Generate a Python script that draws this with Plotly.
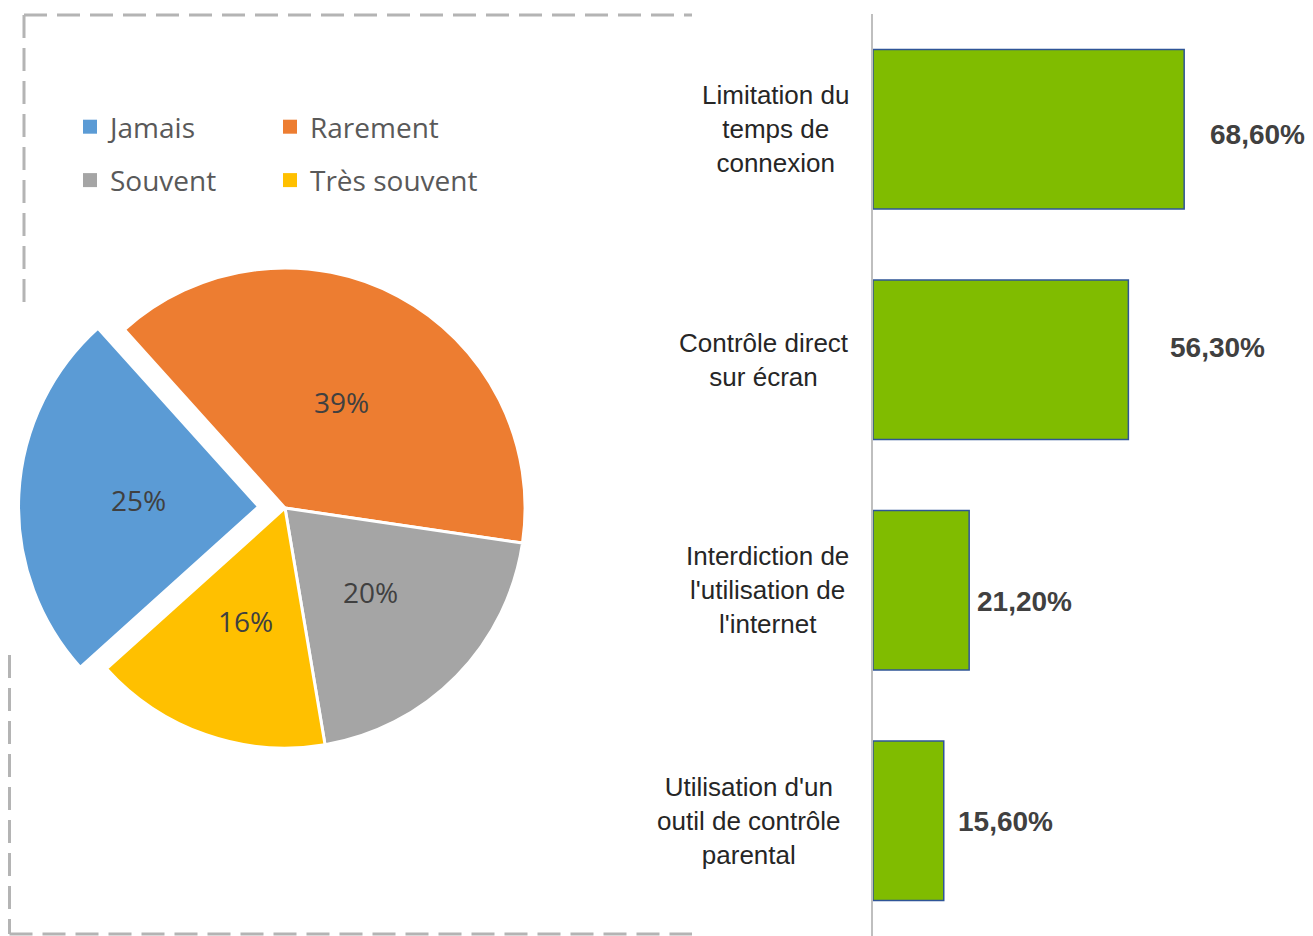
import math
import plotly.graph_objects as go

# ---- data ----
pie_labels = ["Jamais", "Rarement", "Souvent", "Très souvent"]
pie_values = [25, 39, 20, 16]
pie_colors = ["#5B9BD5", "#ED7D31", "#A5A5A5", "#FFC000"]
pie_pull = [0.11, 0, 0, 0]

bar_categories = [
    "Limitation du<br>temps de<br>connexion",
    "Contrôle direct<br>sur écran",
    "Interdiction de<br>l'utilisation de<br>l'internet",
    "Utilisation d'un<br>outil de contrôle<br>parental",
]
bar_values = [68.6, 56.3, 21.2, 15.6]
bar_text = ["68,60%", "56,30%", "21,20%", "15,60%"]

# label nudges (style, in px)
value_dx = [24, 40, 6, 12]
value_dy = [-5, 12, -11, -1]
cat_dx = [-22, -22, -22, -30]

# figure size (page body adds an 8px margin)
FW, FH = 1305, 928
OFF = 8


def px(x):
    return (x - OFF) / FW


def py(y):
    return 1 - (y - OFF) / FH


# pie geometry (in page pixels)
PIE_CX, PIE_CY, PIE_BOX = 285, 508, 533
PIE_ROT = 228
pie_r = PIE_BOX / (2 + 2 * max(pie_pull))

AXIS_X = px(873)

fig = go.Figure()

fig.add_trace(go.Bar(
    y=bar_categories,
    x=bar_values,
    orientation="h",
    marker=dict(color="#80BC00", line=dict(color="#2F5597", width=1.5)),
    showlegend=False,
    hoverinfo="x+y",
))

fig.add_trace(go.Pie(
    labels=pie_labels,
    values=pie_values,
    marker=dict(colors=pie_colors, line=dict(color="white", width=3)),
    sort=False,
    direction="clockwise",
    rotation=PIE_ROT,
    pull=pie_pull,
    textinfo="none",
    domain=dict(x=[px(PIE_CX - PIE_BOX / 2), px(PIE_CX + PIE_BOX / 2)],
                y=[py(PIE_CY + PIE_BOX / 2), py(PIE_CY - PIE_BOX / 2)]),
    showlegend=False,
    hoverinfo="label+percent",
))

# legend entries for the pie (two columns, as in the original)
for i, (lab, col) in enumerate(zip(pie_labels, pie_colors)):
    fig.add_trace(go.Scatter(
        x=[None], y=[None], mode="markers", name=lab,
        marker=dict(symbol="square", size=14, color=col),
        legend="legend" if i % 2 == 0 else "legend2",
        legendgroup=lab, showlegend=True, hoverinfo="skip",
    ))

annotations = []

# pie percentage labels, placed at half radius along each slice's mid-angle
total = sum(pie_values)
angle = PIE_ROT
for v, pl in zip(pie_values, pie_pull):
    frac = v / total
    mid = math.radians(angle + 360 * frac / 2)
    d = pie_r * (0.5 + pl)
    annotations.append(dict(
        x=px(PIE_CX + d * math.sin(mid)), y=py(PIE_CY - d * math.cos(mid)),
        xref="paper", yref="paper", text=f"{round(100 * frac)}%", showarrow=False,
        xanchor="center", yanchor="middle",
        font=dict(family="Open Sans", size=28, color="#404040"),
    ))
    angle += 360 * frac

for cat, v, t, dx, dy in zip(bar_categories, bar_values, bar_text, value_dx, value_dy):
    annotations.append(dict(
        x=v, y=cat, xref="x", yref="y", text=t, showarrow=False,
        xanchor="left", yanchor="middle", xshift=dx, yshift=dy,
        font=dict(family="Arial, Liberation Sans", size=28, color="#404040", weight="bold"),
    ))
for cat, dx in zip(bar_categories, cat_dx):
    annotations.append(dict(
        x=AXIS_X, y=cat, xref="paper", yref="y", text=cat, showarrow=False,
        xanchor="right", yanchor="middle", align="center", xshift=dx,
        font=dict(family="Arial, Liberation Sans", size=26, color="#262626"),
    ))

dash_style = dict(color="#B4B4B4", width=3, dash="23px,10px")
shapes = [
    dict(type="line", xref="paper", yref="paper", x0=px(24), x1=px(692),
         y0=py(15), y1=py(15), line=dash_style),
    dict(type="line", xref="paper", yref="paper", x0=px(24), x1=px(24),
         y0=py(15), y1=py(312), line=dash_style),
    dict(type="line", xref="paper", yref="paper", x0=px(9.5), x1=px(9.5),
         y0=py(655), y1=py(934), line=dash_style),
    dict(type="line", xref="paper", yref="paper", x0=px(9.5), x1=px(692),
         y0=py(934), y1=py(934), line=dash_style),
]

legend_common = dict(
    orientation="v", yanchor="top", xanchor="left", y=py(102),
    tracegroupgap=14, bgcolor="rgba(0,0,0,0)", itemclick=False, itemdoubleclick=False,
    font=dict(family="Open Sans", size=28, color="#595959"),
)

fig.update_layout(
    width=FW, height=FH,
    margin=dict(l=0, r=0, t=0, b=0),
    paper_bgcolor="white", plot_bgcolor="white",
    bargap=0.307,
    xaxis=dict(type="linear", domain=[AXIS_X, 1], range=[0, 97], showgrid=False,
               zeroline=False, showticklabels=False, showline=False, fixedrange=True),
    yaxis=dict(type="category", categoryorder="array", categoryarray=bar_categories,
               domain=[0, py(14)], autorange="reversed", showgrid=False,
               zeroline=False, showticklabels=False, showline=True,
               linecolor="#BFBFBF", linewidth=2, ticks=""),
    legend=dict(x=px(70), **legend_common),
    legend2=dict(x=px(270), **legend_common),
    annotations=annotations,
    shapes=shapes,
)

fig.write_html("out.html")
